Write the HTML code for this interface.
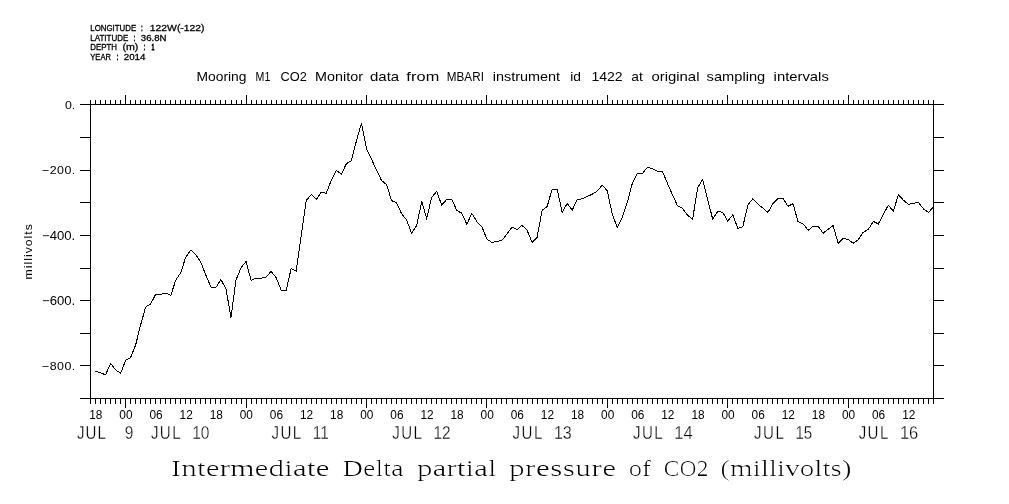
<!DOCTYPE html>
<html lang="en"><head><meta charset="utf-8"><title>Intermediate Delta partial pressure of CO2 (millivolts)</title>
<style>
html,body{margin:0;padding:0;background:#fff;}
svg{display:block;}
text{fill:#000;}
.mk text{fill:#fff;}
</style></head><body>
<svg width="1009" height="504" viewBox="0 0 1009 504">
<rect width="1009" height="504" fill="#fff"/>
<g stroke="#000" stroke-width="1" fill="none" shape-rendering="crispEdges">
<path d="M80 104.5H944M80 398.5H944M90.5 104.5V398.5M933.5 104.5V398.5"/>
<path d="M80 137.5H90.5M933.5 137.5H944M80 170.5H90.5M933.5 170.5H944M80 202.5H90.5M933.5 202.5H944M80 235.5H90.5M933.5 235.5H944M80 268.5H90.5M933.5 268.5H944M80 300.5H90.5M933.5 300.5H944M80 333.5H90.5M933.5 333.5H944M80 365.5H90.5M933.5 365.5H944"/>
<path d="M90.5 104.5V100M90.5 398.5V404M95.5 104.5V100M95.5 398.5V404M100.5 104.5V100M100.5 398.5V404M105.5 104.5V100M105.5 398.5V404M110.5 104.5V100M110.5 398.5V404M115.5 104.5V100M115.5 398.5V404M120.5 104.5V100M120.5 398.5V404M125.5 104.5V95M125.5 398.5V408M130.5 104.5V100M130.5 398.5V404M135.5 104.5V100M135.5 398.5V404M140.5 104.5V100M140.5 398.5V404M145.5 104.5V100M145.5 398.5V404M150.5 104.5V100M150.5 398.5V404M155.5 104.5V100M155.5 398.5V404M160.5 104.5V100M160.5 398.5V404M165.5 104.5V100M165.5 398.5V404M170.5 104.5V100M170.5 398.5V404M175.5 104.5V100M175.5 398.5V404M180.5 104.5V100M180.5 398.5V404M185.5 104.5V100M185.5 398.5V404M190.5 104.5V100M190.5 398.5V404M195.5 104.5V100M195.5 398.5V404M200.5 104.5V100M200.5 398.5V404M205.5 104.5V100M205.5 398.5V404M210.5 104.5V100M210.5 398.5V404M215.5 104.5V100M215.5 398.5V404M220.5 104.5V100M220.5 398.5V404M225.5 104.5V100M225.5 398.5V404M231.5 104.5V100M231.5 398.5V404M236.5 104.5V100M236.5 398.5V404M241.5 104.5V100M241.5 398.5V404M246.5 104.5V95M246.5 398.5V408M251.5 104.5V100M251.5 398.5V404M256.5 104.5V100M256.5 398.5V404M261.5 104.5V100M261.5 398.5V404M266.5 104.5V100M266.5 398.5V404M271.5 104.5V100M271.5 398.5V404M276.5 104.5V100M276.5 398.5V404M281.5 104.5V100M281.5 398.5V404M286.5 104.5V100M286.5 398.5V404M291.5 104.5V100M291.5 398.5V404M296.5 104.5V100M296.5 398.5V404M301.5 104.5V100M301.5 398.5V404M306.5 104.5V100M306.5 398.5V404M311.5 104.5V100M311.5 398.5V404M316.5 104.5V100M316.5 398.5V404M321.5 104.5V100M321.5 398.5V404M326.5 104.5V100M326.5 398.5V404M331.5 104.5V100M331.5 398.5V404M336.5 104.5V100M336.5 398.5V404M341.5 104.5V100M341.5 398.5V404M346.5 104.5V100M346.5 398.5V404M351.5 104.5V100M351.5 398.5V404M356.5 104.5V100M356.5 398.5V404M361.5 104.5V100M361.5 398.5V404M366.5 104.5V95M366.5 398.5V408M371.5 104.5V100M371.5 398.5V404M376.5 104.5V100M376.5 398.5V404M381.5 104.5V100M381.5 398.5V404M386.5 104.5V100M386.5 398.5V404M391.5 104.5V100M391.5 398.5V404M396.5 104.5V100M396.5 398.5V404M401.5 104.5V100M401.5 398.5V404M406.5 104.5V100M406.5 398.5V404M411.5 104.5V100M411.5 398.5V404M416.5 104.5V100M416.5 398.5V404M421.5 104.5V100M421.5 398.5V404M426.5 104.5V100M426.5 398.5V404M431.5 104.5V100M431.5 398.5V404M436.5 104.5V100M436.5 398.5V404M441.5 104.5V100M441.5 398.5V404M446.5 104.5V100M446.5 398.5V404M451.5 104.5V100M451.5 398.5V404M456.5 104.5V100M456.5 398.5V404M461.5 104.5V100M461.5 398.5V404M466.5 104.5V100M466.5 398.5V404M471.5 104.5V100M471.5 398.5V404M476.5 104.5V100M476.5 398.5V404M481.5 104.5V100M481.5 398.5V404M486.5 104.5V95M486.5 398.5V408M491.5 104.5V100M491.5 398.5V404M496.5 104.5V100M496.5 398.5V404M501.5 104.5V100M501.5 398.5V404M506.5 104.5V100M506.5 398.5V404M512.5 104.5V100M512.5 398.5V404M517.5 104.5V100M517.5 398.5V404M522.5 104.5V100M522.5 398.5V404M527.5 104.5V100M527.5 398.5V404M532.5 104.5V100M532.5 398.5V404M537.5 104.5V100M537.5 398.5V404M542.5 104.5V100M542.5 398.5V404M547.5 104.5V100M547.5 398.5V404M552.5 104.5V100M552.5 398.5V404M557.5 104.5V100M557.5 398.5V404M562.5 104.5V100M562.5 398.5V404M567.5 104.5V100M567.5 398.5V404M572.5 104.5V100M572.5 398.5V404M577.5 104.5V100M577.5 398.5V404M582.5 104.5V100M582.5 398.5V404M587.5 104.5V100M587.5 398.5V404M592.5 104.5V100M592.5 398.5V404M597.5 104.5V100M597.5 398.5V404M602.5 104.5V100M602.5 398.5V404M607.5 104.5V95M607.5 398.5V408M612.5 104.5V100M612.5 398.5V404M617.5 104.5V100M617.5 398.5V404M622.5 104.5V100M622.5 398.5V404M627.5 104.5V100M627.5 398.5V404M632.5 104.5V100M632.5 398.5V404M637.5 104.5V100M637.5 398.5V404M642.5 104.5V100M642.5 398.5V404M647.5 104.5V100M647.5 398.5V404M652.5 104.5V100M652.5 398.5V404M657.5 104.5V100M657.5 398.5V404M662.5 104.5V100M662.5 398.5V404M667.5 104.5V100M667.5 398.5V404M672.5 104.5V100M672.5 398.5V404M677.5 104.5V100M677.5 398.5V404M682.5 104.5V100M682.5 398.5V404M687.5 104.5V100M687.5 398.5V404M692.5 104.5V100M692.5 398.5V404M697.5 104.5V100M697.5 398.5V404M702.5 104.5V100M702.5 398.5V404M707.5 104.5V100M707.5 398.5V404M712.5 104.5V100M712.5 398.5V404M717.5 104.5V100M717.5 398.5V404M722.5 104.5V100M722.5 398.5V404M727.5 104.5V95M727.5 398.5V408M732.5 104.5V100M732.5 398.5V404M737.5 104.5V100M737.5 398.5V404M742.5 104.5V100M742.5 398.5V404M747.5 104.5V100M747.5 398.5V404M752.5 104.5V100M752.5 398.5V404M757.5 104.5V100M757.5 398.5V404M762.5 104.5V100M762.5 398.5V404M767.5 104.5V100M767.5 398.5V404M772.5 104.5V100M772.5 398.5V404M777.5 104.5V100M777.5 398.5V404M782.5 104.5V100M782.5 398.5V404M788.5 104.5V100M788.5 398.5V404M793.5 104.5V100M793.5 398.5V404M798.5 104.5V100M798.5 398.5V404M803.5 104.5V100M803.5 398.5V404M808.5 104.5V100M808.5 398.5V404M813.5 104.5V100M813.5 398.5V404M818.5 104.5V100M818.5 398.5V404M823.5 104.5V100M823.5 398.5V404M828.5 104.5V100M828.5 398.5V404M833.5 104.5V100M833.5 398.5V404M838.5 104.5V100M838.5 398.5V404M843.5 104.5V100M843.5 398.5V404M848.5 104.5V95M848.5 398.5V408M853.5 104.5V100M853.5 398.5V404M858.5 104.5V100M858.5 398.5V404M863.5 104.5V100M863.5 398.5V404M868.5 104.5V100M868.5 398.5V404M873.5 104.5V100M873.5 398.5V404M878.5 104.5V100M878.5 398.5V404M883.5 104.5V100M883.5 398.5V404M888.5 104.5V100M888.5 398.5V404M893.5 104.5V100M893.5 398.5V404M898.5 104.5V100M898.5 398.5V404M903.5 104.5V100M903.5 398.5V404M908.5 104.5V100M908.5 398.5V404M913.5 104.5V100M913.5 398.5V404M918.5 104.5V100M918.5 398.5V404M923.5 104.5V100M923.5 398.5V404M928.5 104.5V100M928.5 398.5V404M933.5 104.5V100M933.5 398.5V404"/>
<polyline points="95.5,371.4 100.5,372.7 105.5,374.9 110.6,363.5 115.6,369.8 120.6,373.3 125.6,360.3 130.6,357.5 135.6,345.2 140.7,324.6 145.7,307.0 150.7,303.8 155.7,294.3 160.7,294.3 165.8,293.2 170.8,295.4 175.8,280.0 180.8,272.5 185.8,257.0 190.8,250.2 195.9,254.6 200.9,262.5 205.9,275.2 210.9,287.1 215.9,287.5 220.9,279.5 226.0,289.0 231.0,317.5 236.0,280.0 241.0,267.8 246.0,261.5 251.1,280.5 256.1,278.1 261.1,278.1 266.1,277.1 271.1,271.3 276.1,277.6 281.2,290.3 286.2,290.3 291.2,268.4 296.2,271.0 301.2,236.0 306.3,200.5 311.3,194.4 316.3,199.5 321.3,192.1 326.3,193.2 331.3,180.2 336.4,170.3 341.4,174.2 346.4,163.6 351.4,160.6 356.4,141.0 361.5,123.2 366.5,148.9 371.5,159.2 376.5,170.0 381.5,180.5 386.5,184.5 391.6,200.6 396.6,202.8 401.6,213.7 406.6,220.0 411.6,233.2 416.7,225.6 421.7,201.4 426.7,218.4 431.7,197.3 436.7,191.4 441.7,205.2 446.8,199.4 451.8,199.4 456.8,210.5 461.8,213.2 466.8,224.3 471.8,213.3 476.9,221.6 481.9,226.8 486.9,239.0 491.9,242.5 496.9,241.4 502.0,240.2 507.0,234.0 512.0,227.2 517.0,229.6 522.0,225.4 527.0,229.9 532.1,242.5 537.1,237.3 542.1,210.4 547.1,206.6 552.1,189.4 557.2,189.4 562.2,212.4 567.2,203.4 572.2,210.3 577.2,199.4 582.2,198.9 587.3,196.5 592.3,194.1 597.3,191.0 602.3,185.1 607.3,191.0 612.4,214.8 617.4,227.5 622.4,216.8 627.4,202.0 632.4,183.0 637.4,173.5 642.5,173.5 647.5,167.1 652.5,168.7 657.5,171.1 662.5,171.4 667.6,183.8 672.6,195.2 677.6,206.0 682.6,208.5 687.6,215.2 692.6,219.2 697.7,187.8 702.7,179.5 707.7,199.4 712.7,219.2 717.7,211.3 722.8,212.4 727.8,221.1 732.8,214.8 737.8,228.3 742.8,226.7 747.8,205.2 752.9,198.6 757.9,204.1 762.9,208.1 767.9,212.5 772.9,203.7 777.9,198.6 783.0,198.6 788.0,206.2 793.0,203.7 798.0,221.6 803.0,223.7 808.1,230.3 813.1,226.3 818.1,226.3 823.1,233.2 828.1,229.2 833.1,225.6 838.2,243.3 843.2,238.3 848.2,239.4 853.2,243.3 858.2,239.8 863.3,232.2 868.3,229.5 873.3,221.3 878.3,224.0 883.3,214.4 888.3,205.2 893.4,211.3 898.4,194.6 903.4,200.2 908.4,204.4 913.4,203.3 918.5,202.5 923.5,208.9 928.5,212.5 933.5,206.8"/>
</g>
<text transform="translate(90.30 31.00) scale(0.8213 1)" font-size="9.6" font-family='"Liberation Sans", sans-serif' stroke="#000" stroke-width="0.3" vector-effect="non-scaling-stroke">LONGITUDE</text>
<text transform="translate(141.30 31.00) scale(0.4871 1)" font-size="9.6" font-family='"Liberation Sans", sans-serif' stroke="#000" stroke-width="0.7" vector-effect="non-scaling-stroke">:</text>
<text transform="translate(149.80 31.00) scale(1.0811 1)" font-size="9.6" font-family='"Liberation Sans", sans-serif' stroke="#000" stroke-width="0.3" vector-effect="non-scaling-stroke">122W(-122)</text>
<text transform="translate(90.30 41.00) scale(0.8338 1)" font-size="9.6" font-family='"Liberation Sans", sans-serif' stroke="#000" stroke-width="0.3" vector-effect="non-scaling-stroke">LATITUDE</text>
<text transform="translate(133.80 41.00) scale(0.4871 1)" font-size="9.6" font-family='"Liberation Sans", sans-serif' stroke="#000" stroke-width="0.7" vector-effect="non-scaling-stroke">:</text>
<text transform="translate(140.80 41.00) scale(1.0034 1)" font-size="9.6" font-family='"Liberation Sans", sans-serif' stroke="#000" stroke-width="0.3" vector-effect="non-scaling-stroke">36.8N</text>
<text transform="translate(90.30 50.20) scale(0.8207 1)" font-size="9.6" font-family='"Liberation Sans", sans-serif' stroke="#000" stroke-width="0.3" vector-effect="non-scaling-stroke">DEPTH</text>
<text transform="translate(122.50 50.20) scale(1.1049 1)" font-size="9.6" font-family='"Liberation Sans", sans-serif' stroke="#000" stroke-width="0.3" vector-effect="non-scaling-stroke">(m)</text>
<text transform="translate(143.70 50.20) scale(0.4871 1)" font-size="9.6" font-family='"Liberation Sans", sans-serif' stroke="#000" stroke-width="0.7" vector-effect="non-scaling-stroke">:</text>
<text transform="translate(151.40 50.20) scale(0.5433 1)" font-size="9.6" font-family='"Liberation Sans", sans-serif' stroke="#000" stroke-width="0.7" vector-effect="non-scaling-stroke">1</text>
<text transform="translate(90.30 60.00) scale(0.7919 1)" font-size="9.6" font-family='"Liberation Sans", sans-serif' stroke="#000" stroke-width="0.3" vector-effect="non-scaling-stroke">YEAR</text>
<text transform="translate(116.70 60.00) scale(0.4871 1)" font-size="9.6" font-family='"Liberation Sans", sans-serif' stroke="#000" stroke-width="0.7" vector-effect="non-scaling-stroke">:</text>
<text transform="translate(123.70 60.00) scale(1.0206 1)" font-size="9.6" font-family='"Liberation Sans", sans-serif' stroke="#000" stroke-width="0.3" vector-effect="non-scaling-stroke">2014</text>
<text transform="translate(196.50 81.00) scale(1.0176 1)" font-size="13.6" font-family='"Liberation Sans", sans-serif'>Mooring</text>
<text transform="translate(255.60 81.00) scale(0.7800 1)" font-size="13.6" font-family='"Liberation Sans", sans-serif' letter-spacing="-0.044">M1</text>
<text transform="translate(280.50 81.00) scale(0.9406 1)" font-size="13.6" font-family='"Liberation Sans", sans-serif'>CO2</text>
<text transform="translate(315.10 81.00) scale(1.0561 1)" font-size="13.6" font-family='"Liberation Sans", sans-serif'>Monitor</text>
<text transform="translate(370.00 81.00) scale(1.1028 1)" font-size="13.6" font-family='"Liberation Sans", sans-serif'>data</text>
<text transform="translate(406.20 81.00) scale(1.2000 1)" font-size="13.6" font-family='"Liberation Sans", sans-serif' letter-spacing="0.128">from</text>
<text transform="translate(446.80 81.00) scale(0.8614 1)" font-size="13.6" font-family='"Liberation Sans", sans-serif'>MBARI</text>
<text transform="translate(492.70 81.00) scale(1.0632 1)" font-size="13.6" font-family='"Liberation Sans", sans-serif'>instrument</text>
<text transform="translate(570.20 81.00) scale(1.0207 1)" font-size="13.6" font-family='"Liberation Sans", sans-serif'>id</text>
<text transform="translate(591.40 81.00) scale(1.0344 1)" font-size="13.6" font-family='"Liberation Sans", sans-serif'>1422</text>
<text transform="translate(631.30 81.00) scale(1.0139 1)" font-size="13.6" font-family='"Liberation Sans", sans-serif'>at</text>
<text transform="translate(651.40 81.00) scale(1.0970 1)" font-size="13.6" font-family='"Liberation Sans", sans-serif'>original</text>
<text transform="translate(706.60 81.00) scale(1.0767 1)" font-size="13.6" font-family='"Liberation Sans", sans-serif'>sampling</text>
<text transform="translate(773.60 81.00) scale(1.0919 1)" font-size="13.6" font-family='"Liberation Sans", sans-serif'>intervals</text>
<text transform="translate(65.00 108.90) scale(1.0739 1)" font-size="11.5" font-family='"Liberation Sans", sans-serif'>0.</text>
<text transform="translate(42.00 173.90) scale(1.0800 1)" font-size="11.5" font-family='"Liberation Sans", sans-serif' letter-spacing="0.435">−200.</text>
<text transform="translate(42.00 239.90) scale(1.0701 1)" font-size="12.3" font-family='"Liberation Sans", sans-serif'>−400.</text>
<text transform="translate(42.00 304.90) scale(1.0701 1)" font-size="12.3" font-family='"Liberation Sans", sans-serif'>−600.</text>
<text transform="translate(42.00 369.90) scale(1.0800 1)" font-size="11.5" font-family='"Liberation Sans", sans-serif' letter-spacing="0.435">−800.</text>
<text transform="translate(32.2 279.40) rotate(-90) scale(1.0400 1)" font-size="11.8" font-family='"Liberation Sans", sans-serif' letter-spacing="0.955">millivolts</text>
<text transform="translate(89.22 419.10) scale(0.9496 1)" font-size="12.5" font-family='"Liberation Sans", sans-serif'>18</text>
<text transform="translate(119.33 419.10) scale(0.9496 1)" font-size="12.5" font-family='"Liberation Sans", sans-serif'>00</text>
<text transform="translate(149.43 419.10) scale(0.9496 1)" font-size="12.5" font-family='"Liberation Sans", sans-serif'>06</text>
<text transform="translate(179.54 419.10) scale(0.9496 1)" font-size="12.5" font-family='"Liberation Sans", sans-serif'>12</text>
<text transform="translate(209.65 419.10) scale(0.9496 1)" font-size="12.5" font-family='"Liberation Sans", sans-serif'>18</text>
<text transform="translate(239.76 419.10) scale(0.9496 1)" font-size="12.5" font-family='"Liberation Sans", sans-serif'>00</text>
<text transform="translate(269.87 419.10) scale(0.9496 1)" font-size="12.5" font-family='"Liberation Sans", sans-serif'>06</text>
<text transform="translate(299.97 419.10) scale(0.9496 1)" font-size="12.5" font-family='"Liberation Sans", sans-serif'>12</text>
<text transform="translate(330.08 419.10) scale(0.9496 1)" font-size="12.5" font-family='"Liberation Sans", sans-serif'>18</text>
<text transform="translate(360.19 419.10) scale(0.9496 1)" font-size="12.5" font-family='"Liberation Sans", sans-serif'>00</text>
<text transform="translate(390.30 419.10) scale(0.9496 1)" font-size="12.5" font-family='"Liberation Sans", sans-serif'>06</text>
<text transform="translate(420.41 419.10) scale(0.9496 1)" font-size="12.5" font-family='"Liberation Sans", sans-serif'>12</text>
<text transform="translate(450.51 419.10) scale(0.9496 1)" font-size="12.5" font-family='"Liberation Sans", sans-serif'>18</text>
<text transform="translate(480.62 419.10) scale(0.9496 1)" font-size="12.5" font-family='"Liberation Sans", sans-serif'>00</text>
<text transform="translate(510.73 419.10) scale(0.9496 1)" font-size="12.5" font-family='"Liberation Sans", sans-serif'>06</text>
<text transform="translate(540.84 419.10) scale(0.9496 1)" font-size="12.5" font-family='"Liberation Sans", sans-serif'>12</text>
<text transform="translate(570.95 419.10) scale(0.9496 1)" font-size="12.5" font-family='"Liberation Sans", sans-serif'>18</text>
<text transform="translate(601.05 419.10) scale(0.9496 1)" font-size="12.5" font-family='"Liberation Sans", sans-serif'>00</text>
<text transform="translate(631.16 419.10) scale(0.9496 1)" font-size="12.5" font-family='"Liberation Sans", sans-serif'>06</text>
<text transform="translate(661.27 419.10) scale(0.9496 1)" font-size="12.5" font-family='"Liberation Sans", sans-serif'>12</text>
<text transform="translate(691.38 419.10) scale(0.9496 1)" font-size="12.5" font-family='"Liberation Sans", sans-serif'>18</text>
<text transform="translate(721.49 419.10) scale(0.9496 1)" font-size="12.5" font-family='"Liberation Sans", sans-serif'>00</text>
<text transform="translate(751.59 419.10) scale(0.9496 1)" font-size="12.5" font-family='"Liberation Sans", sans-serif'>06</text>
<text transform="translate(781.70 419.10) scale(0.9496 1)" font-size="12.5" font-family='"Liberation Sans", sans-serif'>12</text>
<text transform="translate(811.81 419.10) scale(0.9496 1)" font-size="12.5" font-family='"Liberation Sans", sans-serif'>18</text>
<text transform="translate(841.92 419.10) scale(0.9496 1)" font-size="12.5" font-family='"Liberation Sans", sans-serif'>00</text>
<text transform="translate(872.03 419.10) scale(0.9496 1)" font-size="12.5" font-family='"Liberation Sans", sans-serif'>06</text>
<text transform="translate(902.13 419.10) scale(0.9496 1)" font-size="12.5" font-family='"Liberation Sans", sans-serif'>12</text>
<text transform="translate(77.00 439.20) scale(0.8400 1)" font-size="18" font-family='"Liberation Sans", sans-serif' letter-spacing="1.200" stroke="#fff" stroke-width="0.3" vector-effect="non-scaling-stroke">JUL</text>
<text transform="translate(124.70 439.20) scale(0.8593 1)" font-size="18" font-family='"Liberation Sans", sans-serif' stroke="#fff" stroke-width="0.3" vector-effect="non-scaling-stroke">9</text>
<text transform="translate(150.90 439.20) scale(0.8400 1)" font-size="18" font-family='"Liberation Sans", sans-serif' letter-spacing="1.677" stroke="#fff" stroke-width="0.3" vector-effect="non-scaling-stroke">JUL</text>
<text transform="translate(192.20 439.20) scale(0.8643 1)" font-size="18" font-family='"Liberation Sans", sans-serif' stroke="#fff" stroke-width="0.3" vector-effect="non-scaling-stroke">10</text>
<text transform="translate(271.50 439.20) scale(0.8400 1)" font-size="18" font-family='"Liberation Sans", sans-serif' letter-spacing="1.677" stroke="#fff" stroke-width="0.3" vector-effect="non-scaling-stroke">JUL</text>
<text transform="translate(312.80 439.20) scale(0.8510 1)" font-size="18" font-family='"Liberation Sans", sans-serif' stroke="#fff" stroke-width="0.3" vector-effect="non-scaling-stroke">11</text>
<text transform="translate(392.20 439.20) scale(0.8400 1)" font-size="18" font-family='"Liberation Sans", sans-serif' letter-spacing="1.677" stroke="#fff" stroke-width="0.3" vector-effect="non-scaling-stroke">JUL</text>
<text transform="translate(433.50 439.20) scale(0.8543 1)" font-size="18" font-family='"Liberation Sans", sans-serif' stroke="#fff" stroke-width="0.3" vector-effect="non-scaling-stroke">12</text>
<text transform="translate(512.60 439.20) scale(0.8400 1)" font-size="18" font-family='"Liberation Sans", sans-serif' letter-spacing="1.677" stroke="#fff" stroke-width="0.3" vector-effect="non-scaling-stroke">JUL</text>
<text transform="translate(553.90 439.20) scale(0.8943 1)" font-size="18" font-family='"Liberation Sans", sans-serif' stroke="#fff" stroke-width="0.3" vector-effect="non-scaling-stroke">13</text>
<text transform="translate(633.00 439.20) scale(0.8400 1)" font-size="18" font-family='"Liberation Sans", sans-serif' letter-spacing="1.677" stroke="#fff" stroke-width="0.3" vector-effect="non-scaling-stroke">JUL</text>
<text transform="translate(674.30 439.20) scale(0.9193 1)" font-size="18" font-family='"Liberation Sans", sans-serif' stroke="#fff" stroke-width="0.3" vector-effect="non-scaling-stroke">14</text>
<text transform="translate(754.10 439.20) scale(0.8400 1)" font-size="18" font-family='"Liberation Sans", sans-serif' letter-spacing="1.677" stroke="#fff" stroke-width="0.3" vector-effect="non-scaling-stroke">JUL</text>
<text transform="translate(795.40 439.20) scale(0.8443 1)" font-size="18" font-family='"Liberation Sans", sans-serif' stroke="#fff" stroke-width="0.3" vector-effect="non-scaling-stroke">15</text>
<text transform="translate(858.65 439.20) scale(0.8400 1)" font-size="18" font-family='"Liberation Sans", sans-serif' letter-spacing="1.677" stroke="#fff" stroke-width="0.3" vector-effect="non-scaling-stroke">JUL</text>
<text transform="translate(899.95 439.20) scale(0.9168 1)" font-size="18" font-family='"Liberation Sans", sans-serif' stroke="#fff" stroke-width="0.3" vector-effect="non-scaling-stroke">16</text>
<mask id="er" maskUnits="userSpaceOnUse" x="0" y="440" width="1009" height="64"><rect x="0" y="440" width="1009" height="64" fill="#000"/><g fill="#fff" class="mk">
<text transform="translate(171.25 476.00) scale(1.3546 1)" font-size="23.2" font-family='"Liberation Serif", serif'>Intermediate</text>
<text transform="translate(343.05 476.00) scale(1.2139 1)" font-size="23.2" font-family='"Liberation Serif", serif'>Delta</text>
<text transform="translate(417.45 476.00) scale(1.3451 1)" font-size="23.2" font-family='"Liberation Serif", serif'>partial</text>
<text transform="translate(509.45 476.00) scale(1.3600 1)" font-size="23.2" font-family='"Liberation Serif", serif' letter-spacing="0.217">pressure</text>
<text transform="translate(629.25 476.00) scale(1.1474 1)" font-size="23.2" font-family='"Liberation Serif", serif'>of</text>
<text transform="translate(664.05 476.00) scale(1.0245 1)" font-size="23.2" font-family='"Liberation Serif", serif'>CO2</text>
<text transform="translate(720.75 476.00) scale(1.2586 1)" font-size="23.2" font-family='"Liberation Serif", serif'>(millivolts)</text>
</g></mask>
<g mask="url(#er)">
<text transform="translate(170.35 476.00) scale(1.3546 1)" font-size="23.2" font-family='"Liberation Serif", serif'>Intermediate</text>
<text transform="translate(342.15 476.00) scale(1.2139 1)" font-size="23.2" font-family='"Liberation Serif", serif'>Delta</text>
<text transform="translate(416.55 476.00) scale(1.3451 1)" font-size="23.2" font-family='"Liberation Serif", serif'>partial</text>
<text transform="translate(508.55 476.00) scale(1.3600 1)" font-size="23.2" font-family='"Liberation Serif", serif' letter-spacing="0.217">pressure</text>
<text transform="translate(628.35 476.00) scale(1.1474 1)" font-size="23.2" font-family='"Liberation Serif", serif'>of</text>
<text transform="translate(663.15 476.00) scale(1.0245 1)" font-size="23.2" font-family='"Liberation Serif", serif'>CO2</text>
<text transform="translate(719.85 476.00) scale(1.2586 1)" font-size="23.2" font-family='"Liberation Serif", serif'>(millivolts)</text>
</g>
</svg>
</body></html>
